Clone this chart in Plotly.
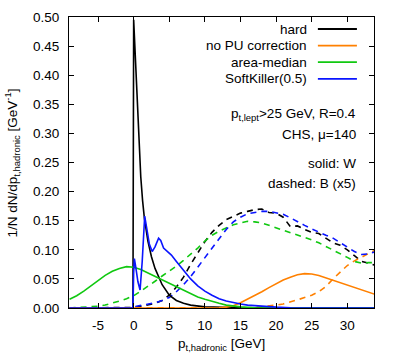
import plotly.graph_objects as go

# ---------------- data ----------------
hard_x = [-9, -0.1, 0.0, 0.25, 0.5, 0.75, 1.0, 1.25, 1.5, 2.0, 2.5, 3.0, 3.5, 4.0, 5.0, 6.0, 7.0, 8.0, 10.0, 12.0, 15.0, 20.0, 34.0]
hard_y = [0, 0, 0.495, 0.42, 0.35, 0.29, 0.225, 0.185, 0.155, 0.115, 0.088, 0.068, 0.053, 0.040, 0.022, 0.013, 0.008, 0.005, 0.002, 0.001, 0.0003, 0, 0]

nopu_x = [-9, 11, 12, 13, 14, 15, 16, 17, 18, 19, 20, 21, 22, 23, 24, 25, 26, 27, 28, 29, 30, 31, 32, 33, 34]
nopu_y = [0, 0, 0.0005, 0.0015, 0.004, 0.009, 0.015, 0.021, 0.028, 0.035, 0.042, 0.048, 0.053, 0.057, 0.059, 0.0585, 0.056, 0.052, 0.047, 0.043, 0.039, 0.035, 0.031, 0.027, 0.023]

area_x = [-9, -8, -7, -6, -5, -4, -3, -2, -1, -0.25, 0, 1, 2, 3, 4, 5, 6, 7, 8, 9, 10, 11, 12, 13, 14, 15, 17, 20, 34]
area_y = [0.015, 0.021, 0.029, 0.038, 0.047, 0.056, 0.063, 0.068, 0.071, 0.071, 0.070, 0.066, 0.060, 0.055, 0.049, 0.042, 0.036, 0.030, 0.024, 0.019, 0.015, 0.011, 0.008, 0.005, 0.003, 0.002, 0.0005, 0, 0]

sk_x = [-9, -0.1, 0.0, 0.1, 0.3, 0.6, 0.9, 1.2, 1.55, 1.8, 2.2, 2.6, 3.0, 3.5, 3.8, 4.2, 4.8, 5.3, 6.0, 6.5, 7.0, 8.0, 9.0, 10, 11, 12, 13, 14, 15, 16, 18, 20, 22, 25, 34]
sk_y = [0, 0, 0.06, 0.085, 0.07, 0.045, 0.031, 0.08, 0.158, 0.14, 0.11, 0.097, 0.105, 0.12, 0.116, 0.103, 0.097, 0.091, 0.080, 0.072, 0.064, 0.05, 0.038, 0.029, 0.022, 0.016, 0.012, 0.009, 0.007, 0.005, 0.003, 0.0015, 0.0005, 0, 0]

hardB_x = [-9, -0.5, 0, 1, 2, 3, 4, 5, 6, 7, 8, 9, 10, 11, 12, 13, 14, 15, 16, 17, 18, 19, 20, 21, 22, 23, 24, 25, 26, 27, 28, 29, 30, 31, 32, 33, 34]
hardB_y = [0, 0, 0.001, 0.003, 0.005, 0.008, 0.013, 0.022, 0.036, 0.053, 0.075, 0.095, 0.114, 0.13, 0.142, 0.152, 0.158, 0.163, 0.166, 0.169, 0.17, 0.164, 0.163, 0.156, 0.14, 0.141, 0.135, 0.13, 0.128, 0.12, 0.112, 0.108, 0.1, 0.09, 0.08, 0.077, 0.073]

nopuB_x = [-9, 14, 16, 18, 19, 20, 21, 22, 23, 24, 25, 26, 27, 28, 29, 30, 31, 32, 33, 34]
nopuB_y = [0, 0, 0.0005, 0.002, 0.003, 0.005, 0.007, 0.01, 0.014, 0.018, 0.022, 0.028, 0.037, 0.05, 0.062, 0.073, 0.081, 0.087, 0.094, 0.1]

areaB_x = [-9, -8, -7, -6, -5, -4, -3, -2, -1, 0, 1, 2, 3, 4, 5, 6, 7, 8, 9, 10, 11, 12, 13, 14, 15, 16, 17, 18, 19, 20, 21, 22, 23, 24, 25, 26, 27, 28, 29, 30, 31, 32, 33, 34]
areaB_y = [0, 0.0005, 0.001, 0.002, 0.003, 0.005, 0.008, 0.012, 0.016, 0.021, 0.029, 0.037, 0.046, 0.055, 0.063, 0.072, 0.082, 0.092, 0.103, 0.115, 0.125, 0.132, 0.138, 0.143, 0.146, 0.149, 0.148, 0.146, 0.142, 0.138, 0.134, 0.13, 0.126, 0.122, 0.117, 0.112, 0.106, 0.1, 0.094, 0.087, 0.08, 0.077, 0.078, 0.078]

skB_x = [-9, -0.5, 0, 1, 2, 3, 4, 5, 6, 7, 8, 9, 10, 11, 12, 13, 14, 15, 16, 17, 18, 19, 20, 21, 22, 23, 24, 25, 26, 27, 28, 29, 30, 31, 32, 33, 34]
skB_y = [0, 0, 0.002, 0.004, 0.006, 0.009, 0.013, 0.018, 0.028, 0.04, 0.054, 0.07, 0.086, 0.104, 0.12, 0.135, 0.148, 0.156, 0.162, 0.164, 0.166, 0.166, 0.163, 0.161, 0.155, 0.148, 0.142, 0.136, 0.13, 0.125, 0.12, 0.112, 0.105, 0.097, 0.092, 0.093, 0.097]

legend_labels = ["hard", "no PU correction", "area-median", "SoftKiller(0.5)"]
colors = ["#000000", "#ff8000", "#10c810", "#0a14ff"]

x_ticks = [-5, 0, 5, 10, 15, 20, 25, 30]
y_ticks = [0.00, 0.05, 0.10, 0.15, 0.20, 0.25, 0.30, 0.35, 0.40, 0.45, 0.50]

FONT = "Liberation Sans, Arial, sans-serif"
FS = 13.5

fig = go.Figure()

dashed = [(hardB_x, hardB_y), (nopuB_x, nopuB_y), (areaB_x, areaB_y), (skB_x, skB_y)]
solid = [(hard_x, hard_y), (nopu_x, nopu_y), (area_x, area_y), (sk_x, sk_y)]

for (xs, ys), c in zip(dashed, colors):
    fig.add_trace(go.Scatter(x=xs, y=ys, mode="lines", showlegend=False,
                             line=dict(color=c, width=1.6, dash="6px,5px")))
for (xs, ys), c in zip(solid, colors):
    fig.add_trace(go.Scatter(x=xs, y=ys, mode="lines", showlegend=False,
                             line=dict(color=c, width=1.6)))

# gnuplot-style legend: text right-aligned, line sample on the right
leg_y = [0.9587, 0.9017, 0.8446, 0.7876]
shapes = []
annotations = []
for lab, c, yy in zip(legend_labels, colors, leg_y):
    annotations.append(dict(x=0.787, y=yy, xref="paper", yref="paper", text=lab,
                            showarrow=False, xanchor="right", yanchor="middle",
                            font=dict(family=FONT, size=FS, color="black")))
    shapes.append(dict(type="line", xref="paper", yref="paper", x0=0.816, x1=0.944,
                       y0=yy, y1=yy, line=dict(color=c, width=1.8)))

info = [("p<sub>t,lept</sub>>25 GeV, R=0.4", 0.664),
        ("CHS, μ=140", 0.597),
        ("solid: W", 0.497),
        ("dashed: B (x5)", 0.427)]
for t, yy in info:
    annotations.append(dict(x=0.9466, y=yy, xref="paper", yref="paper", text=t,
                            showarrow=False, xanchor="right", yanchor="middle",
                            font=dict(family=FONT, size=FS, color="black")))

# axis titles
annotations.append(dict(x=-0.187, y=0.5, xref="paper", yref="paper",
                        text="1/N dN/dp<sub>t,hadronic</sub> [GeV<sup>-1</sup>]",
                        textangle=-90, showarrow=False, xanchor="center", yanchor="middle",
                        font=dict(family=FONT, size=FS, color="black")))
annotations.append(dict(x=0.5, y=-0.124, xref="paper", yref="paper",
                        text="p<sub>t,hadronic</sub> [GeV]",
                        showarrow=False, xanchor="center", yanchor="middle",
                        font=dict(family=FONT, size=FS, color="black")))

fig.update_layout(
    width=399, height=353,
    margin=dict(l=69, r=25, t=10, b=45, pad=0),
    paper_bgcolor="white", plot_bgcolor="white",
    font=dict(family=FONT, size=FS, color="black"),
    shapes=shapes, annotations=annotations,
    showlegend=False,
)
fig.update_xaxes(range=[-9.08, 33.75], tickvals=x_ticks, ticktext=[str(v) for v in x_ticks],
                 ticks="inside", ticklen=5, tickcolor="black", tickwidth=1,
                 showline=True, linecolor="black", linewidth=1, mirror="ticks",
                 showgrid=False, zeroline=False, ticklabelstandoff=5)
fig.update_yaxes(range=[0, 0.5], tickvals=y_ticks, ticktext=["%.2f" % v for v in y_ticks],
                 ticks="inside", ticklen=5, tickcolor="black", tickwidth=1,
                 showline=True, linecolor="black", linewidth=1, mirror="ticks",
                 showgrid=False, zeroline=False, ticklabelstandoff=6)

fig.write_html("out.html", config={"displayModeBar": False},
               post_script="document.body.style.margin='0';")
